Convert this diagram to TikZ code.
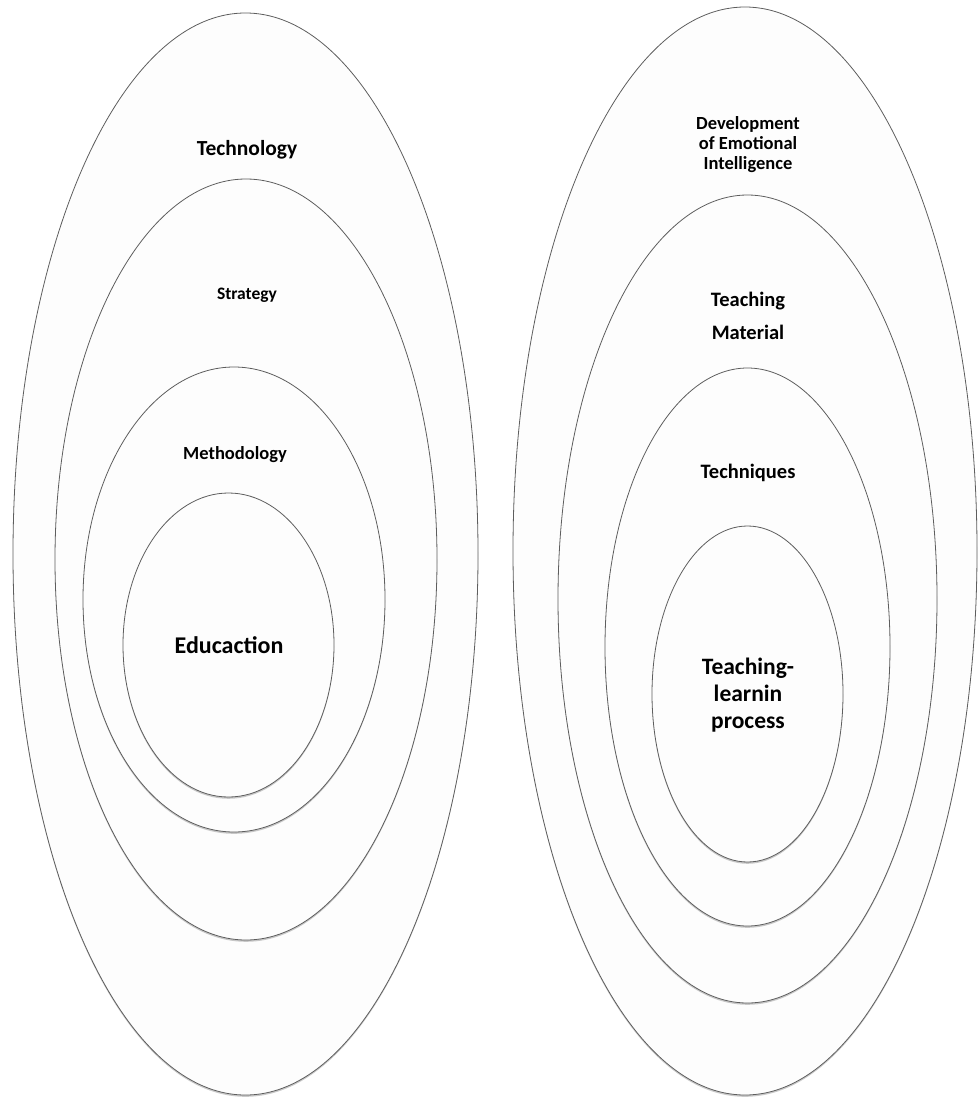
\documentclass[tikz,border=0pt]{standalone}
\usepackage{fontspec}
\setmainfont{Carlito}
\usetikzlibrary{shapes.geometric,shadows}
\definecolor{rim}{HTML}{5E5E5E}
\definecolor{paper}{HTML}{FDFDFD}

\begin{document}
\begin{tikzpicture}[x=1pt,y=-1pt,
    ring/.style={ellipse,draw=rim,line width=0.8pt,fill=paper,inner sep=0pt,
      drop shadow={shadow xshift=0pt,shadow yshift=-1.8pt,opacity=0.3,fill=black!70}},
    lab/.style={font=\bfseries,align=center,inner sep=0pt}]
  \useasboundingbox (0,0) rectangle (979,1097);
  % left rings, outside in
  \foreach \n/\x/\y/\w/\h in {techL/245.5/554/465/1082, stratL/246/559.5/382/761,
      methL/234/599.5/302/465, eduL/228.5/645/211/304}
    \node[ring,minimum width=\w pt,minimum height=\h pt] (\n) at (\x,\y) {};
  % right rings, outside in
  \foreach \n/\x/\y/\w/\h in {emoR/745/551/464/1088, matR/747.5/599/379/808,
      techqR/747.5/647/285/558, procR/747.5/694/191/336}
    \node[ring,minimum width=\w pt,minimum height=\h pt] (\n) at (\x,\y) {};

  \node[lab,font=\bfseries\fontsize{21.5}{24}\selectfont] (technology) at (247,150) {Technology};
  \node[lab,font=\bfseries\fontsize{17.5}{20}\selectfont] (strategy) at (247,295) {Strategy};
  \node[lab,font=\bfseries\fontsize{18.5}{22}\selectfont] (methodology) at (235,455) {Methodology};
  \node[lab,font=\bfseries\fontsize{24}{28}\selectfont] (educaction) at (229,645) {Educaction};

  \node[lab,font=\bfseries\fontsize{18.5}{20}\selectfont] (emotional) at (748,145)
    {Development\\of Emotional\\Intelligence};
  \node[lab,font=\bfseries\fontsize{20.5}{33}\selectfont] (material) at (748,316)
    {Teaching\\Material};
  \node[lab,font=\bfseries\fontsize{20.5}{24}\selectfont] (techniques) at (748,473) {Techniques};
  \node[lab,font=\bfseries\fontsize{23.5}{27}\selectfont] (process) at (748,695)
    {Teaching-\\learnin\\process};
\end{tikzpicture}
\end{document}
